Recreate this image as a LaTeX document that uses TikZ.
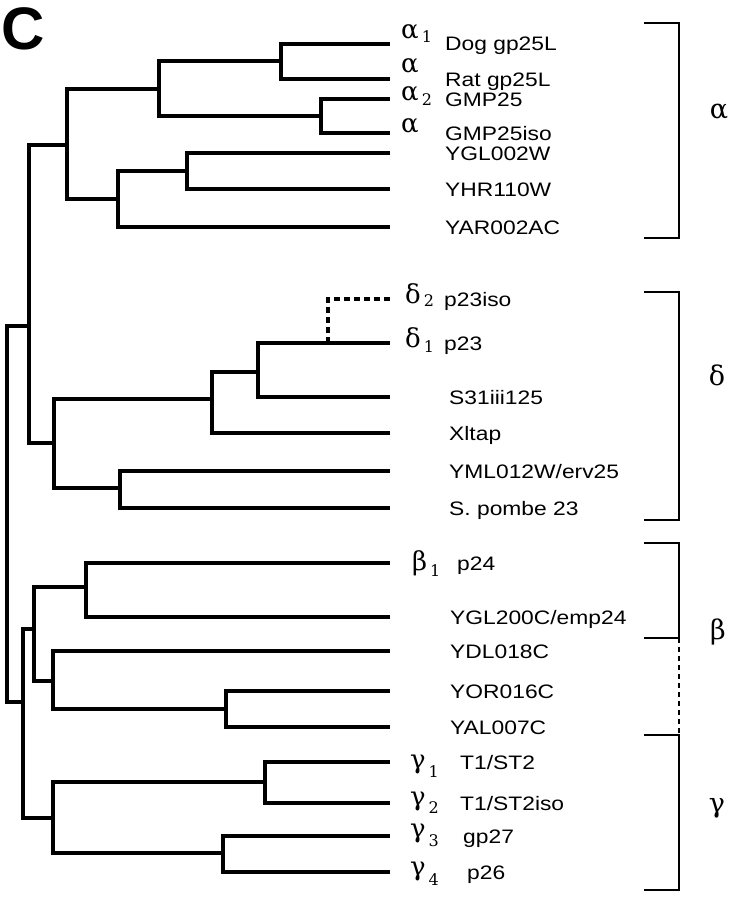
\documentclass[tikz,border=0pt]{standalone}
\usepackage{fontspec}
\setmainfont{Liberation Sans}
\newfontfamily\taxfont[FakeStretch=1.17]{Liberation Sans}
\newfontfamily\grkfont{DejaVu Serif}
\usetikzlibrary{calc}
\def\xTip{390}
\def\xGrk{401}
\def\xBrkL{644}
\tikzset{
  branch/.style={line width=3.3pt, line join=miter},
  branchdash/.style={branch, dash pattern=on 6pt off 4pt},
  taxlbl/.style={font=\taxfont\fontsize{19.5}{22}\selectfont, inner sep=0pt, anchor=base west},
  grklbl/.style={font=\grkfont\fontsize{26}{30}\selectfont, inner sep=0pt, anchor=base west},
  cladelbl/.style={font=\grkfont\fontsize{27}{32}\selectfont, inner sep=0pt},
  brk/.style={line width=1.6pt},
  brkdash/.style={brk, dash pattern=on 5pt off 4pt},
  panel/.style={font=\fontsize{60}{60}\selectfont\bfseries, inner sep=0pt, anchor=base west},
}
\newcommand{\taxon}[4]{%
  \coordinate (#1) at (\xTip,#2);
  \node[taxlbl] (#1-t) at (#3,#2+7) {#4};}
\newcommand{\fork}[5]{%
  \coordinate (#1) at (#2,#3);
  \draw[branch] (#1) |- (#4);
  \draw[branch] (#1) |- (#5);}
\newcommand{\greek}[6]{%
  \node[grklbl] (#1) at (\xGrk+#2,#3) {#4\hspace{3pt}\raisebox{-#6pt}{\fontsize{16}{16}\selectfont #5}};}
\newcommand{\bracket}[3]{%
  \coordinate (#1-top) at (\xBrkL,#2);
  \coordinate (#1-bot) at (\xBrkL,#3);
  \draw[brk] (#1-top) -- ++(35,0) coordinate (#1-tr) |- (#1-bot);
  \coordinate (#1-br) at ($(#1-bot)+(35,0)$);}

\begin{document}
\begin{tikzpicture}[x=1pt, y=-1pt]
  \useasboundingbox (0,0) rectangle (735,899);
  \node[panel] (panelC) at (1,50) {C};

  \taxon{dog}{44}{445}{Dog gp25L}
  \taxon{rat}{79}{445}{Rat gp25L}
  \taxon{gmp}{99}{445}{GMP25}
  \taxon{gmpiso}{133}{445}{GMP25iso}
  \taxon{ygl002}{153}{445}{YGL002W}
  \taxon{yhr110}{189}{445}{YHR110W}
  \taxon{yar002}{227}{445}{YAR002AC}
  \taxon{p23iso}{299}{444}{p23iso}
  \taxon{p23}{343}{444}{p23}
  \taxon{s31}{397}{449}{S31iii125}
  \taxon{xltap}{433}{449}{Xltap}
  \taxon{yml012}{471}{449}{YML012W/erv25}
  \taxon{pombe}{508}{449}{S. pombe 23}
  \taxon{p24}{563}{457}{p24}
  \taxon{ygl200}{617}{450}{YGL200C/emp24}
  \taxon{ydl018}{651}{450}{YDL018C}
  \taxon{yor016}{691}{450}{YOR016C}
  \taxon{yal007}{727}{450}{YAL007C}
  \taxon{tst}{762}{460}{T1/ST2}
  \taxon{tstiso}{803}{460}{T1/ST2iso}
  \taxon{gp27}{836}{463}{gp27}
  \taxon{p26}{872}{467}{p26}

  \fork{a1}{281}{61}{dog}{rat}
  \fork{a2}{321}{116}{gmp}{gmpiso}
  \fork{a3}{159}{89}{a1}{a2}
  \fork{a4}{187}{171}{ygl002}{yhr110}
  \fork{a5}{118}{199}{a4}{yar002}
  \fork{a6}{67}{145}{a3}{a5}
  \fork{d1}{258}{372}{p23}{s31}
  \coordinate (d0) at (328,343);
  \draw[branchdash] (d0) |- (p23iso);
  \fork{d2}{212}{399}{d1}{xltap}
  \fork{d3}{120}{488}{yml012}{pombe}
  \fork{d4}{54}{443}{d2}{d3}
  \fork{ad}{29}{326}{a6}{d4}
  \fork{b1}{86}{587}{p24}{ygl200}
  \fork{b2}{226}{709}{yor016}{yal007}
  \fork{b3}{53}{681}{ydl018}{b2}
  \fork{b4}{34}{629}{b1}{b3}
  \fork{g1}{265}{782}{tst}{tstiso}
  \fork{g2}{223}{853}{gp27}{p26}
  \fork{g3}{53}{818}{g1}{g2}
  \fork{bg}{23}{702}{b4}{g3}
  \fork{root}{7}{514}{ad}{bg}

  \greek{gA1}{0}{39}{α}{1}{4}
  \greek{gA}{0}{73}{α}{}{0}
  \greek{gA2}{0}{100}{α}{2}{5}
  \greek{gAiso}{0}{132}{α}{}{0}
  \greek{gD2}{4}{303}{δ}{2}{3}
  \greek{gD1}{4}{347}{δ}{1}{5}
  \greek{gB1}{11}{570}{β}{1}{6}
  \greek{gG1}{9}{768}{γ}{1}{9}
  \greek{gG2}{9}{805}{γ}{2}{8}
  \greek{gG3}{9}{837}{γ}{3}{9}
  \greek{gG4}{9}{875}{γ}{4}{10}

  \bracket{alpha}{23}{238}
  \bracket{delta}{292}{520}
  \bracket{beta}{543}{638}
  \bracket{gamma}{735}{890}
  \draw[brkdash] (beta-br) -- (gamma-tr);

  \node[cladelbl] (cAlpha) at (719,112) {α};
  \node[cladelbl] (cDelta) at (717,375) {δ};
  \node[cladelbl] (cBeta) at (718,632) {β};
  \node[cladelbl] (cGamma) at (717,808) {γ};
\end{tikzpicture}
\end{document}
